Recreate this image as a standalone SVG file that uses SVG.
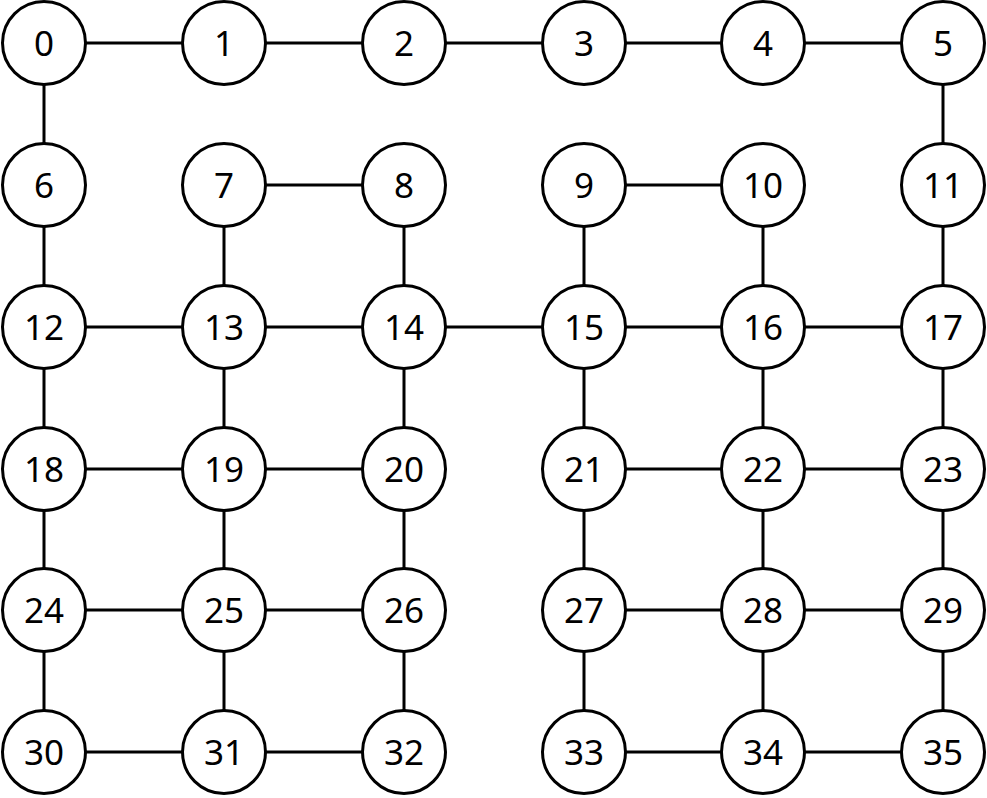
<svg xmlns="http://www.w3.org/2000/svg" width="987" height="798" viewBox="0 0 987 798">
<style>
.n circle{fill:#fff;stroke:#000;stroke-width:3}
.n text{font-family:"Noto Sans","Open Sans","DejaVu Sans",sans-serif;font-size:35px;text-anchor:middle;fill:#000}
#edges line{stroke:#000;stroke-width:3}
</style>
<rect width="987" height="798" fill="#fff"/>
<g id="edges">
<line x1="44" y1="43" x2="943" y2="43"/>
<line x1="44" y1="43" x2="44" y2="185"/>
<line x1="943" y1="43" x2="943" y2="185"/>
<line x1="224" y1="185" x2="404" y2="185"/>
<line x1="584" y1="185" x2="763" y2="185"/>
<line x1="44" y1="185" x2="44" y2="752"/>
<line x1="224" y1="185" x2="224" y2="752"/>
<line x1="404" y1="185" x2="404" y2="752"/>
<line x1="584" y1="185" x2="584" y2="752"/>
<line x1="763" y1="185" x2="763" y2="752"/>
<line x1="943" y1="185" x2="943" y2="752"/>
<line x1="44" y1="327" x2="943" y2="327"/>
<line x1="44" y1="469" x2="404" y2="469"/>
<line x1="584" y1="469" x2="943" y2="469"/>
<line x1="44" y1="610" x2="404" y2="610"/>
<line x1="584" y1="610" x2="943" y2="610"/>
<line x1="44" y1="752" x2="404" y2="752"/>
<line x1="584" y1="752" x2="943" y2="752"/>
</g>
<g id="n0" class="n"><circle cx="44" cy="43" r="41.5"/><text x="44" y="56">0</text></g>
<g id="n1" class="n"><circle cx="224" cy="43" r="41.5"/><text x="224" y="56">1</text></g>
<g id="n2" class="n"><circle cx="404" cy="43" r="41.5"/><text x="404" y="56">2</text></g>
<g id="n3" class="n"><circle cx="584" cy="43" r="41.5"/><text x="584" y="56">3</text></g>
<g id="n4" class="n"><circle cx="763" cy="43" r="41.5"/><text x="763" y="56">4</text></g>
<g id="n5" class="n"><circle cx="943" cy="43" r="41.5"/><text x="943" y="56">5</text></g>
<g id="n6" class="n"><circle cx="44" cy="185" r="41.5"/><text x="44" y="198">6</text></g>
<g id="n7" class="n"><circle cx="224" cy="185" r="41.5"/><text x="224" y="198">7</text></g>
<g id="n8" class="n"><circle cx="404" cy="185" r="41.5"/><text x="404" y="198">8</text></g>
<g id="n9" class="n"><circle cx="584" cy="185" r="41.5"/><text x="584" y="198">9</text></g>
<g id="n10" class="n"><circle cx="763" cy="185" r="41.5"/><text x="763" y="198">10</text></g>
<g id="n11" class="n"><circle cx="943" cy="185" r="41.5"/><text x="943" y="198">11</text></g>
<g id="n12" class="n"><circle cx="44" cy="327" r="41.5"/><text x="44" y="340">12</text></g>
<g id="n13" class="n"><circle cx="224" cy="327" r="41.5"/><text x="224" y="340">13</text></g>
<g id="n14" class="n"><circle cx="404" cy="327" r="41.5"/><text x="404" y="340">14</text></g>
<g id="n15" class="n"><circle cx="584" cy="327" r="41.5"/><text x="584" y="340">15</text></g>
<g id="n16" class="n"><circle cx="763" cy="327" r="41.5"/><text x="763" y="340">16</text></g>
<g id="n17" class="n"><circle cx="943" cy="327" r="41.5"/><text x="943" y="340">17</text></g>
<g id="n18" class="n"><circle cx="44" cy="469" r="41.5"/><text x="44" y="482">18</text></g>
<g id="n19" class="n"><circle cx="224" cy="469" r="41.5"/><text x="224" y="482">19</text></g>
<g id="n20" class="n"><circle cx="404" cy="469" r="41.5"/><text x="404" y="482">20</text></g>
<g id="n21" class="n"><circle cx="584" cy="469" r="41.5"/><text x="584" y="482">21</text></g>
<g id="n22" class="n"><circle cx="763" cy="469" r="41.5"/><text x="763" y="482">22</text></g>
<g id="n23" class="n"><circle cx="943" cy="469" r="41.5"/><text x="943" y="482">23</text></g>
<g id="n24" class="n"><circle cx="44" cy="610" r="41.5"/><text x="44" y="623">24</text></g>
<g id="n25" class="n"><circle cx="224" cy="610" r="41.5"/><text x="224" y="623">25</text></g>
<g id="n26" class="n"><circle cx="404" cy="610" r="41.5"/><text x="404" y="623">26</text></g>
<g id="n27" class="n"><circle cx="584" cy="610" r="41.5"/><text x="584" y="623">27</text></g>
<g id="n28" class="n"><circle cx="763" cy="610" r="41.5"/><text x="763" y="623">28</text></g>
<g id="n29" class="n"><circle cx="943" cy="610" r="41.5"/><text x="943" y="623">29</text></g>
<g id="n30" class="n"><circle cx="44" cy="752" r="41.5"/><text x="44" y="765">30</text></g>
<g id="n31" class="n"><circle cx="224" cy="752" r="41.5"/><text x="224" y="765">31</text></g>
<g id="n32" class="n"><circle cx="404" cy="752" r="41.5"/><text x="404" y="765">32</text></g>
<g id="n33" class="n"><circle cx="584" cy="752" r="41.5"/><text x="584" y="765">33</text></g>
<g id="n34" class="n"><circle cx="763" cy="752" r="41.5"/><text x="763" y="765">34</text></g>
<g id="n35" class="n"><circle cx="943" cy="752" r="41.5"/><text x="943" y="765">35</text></g>
</svg>
